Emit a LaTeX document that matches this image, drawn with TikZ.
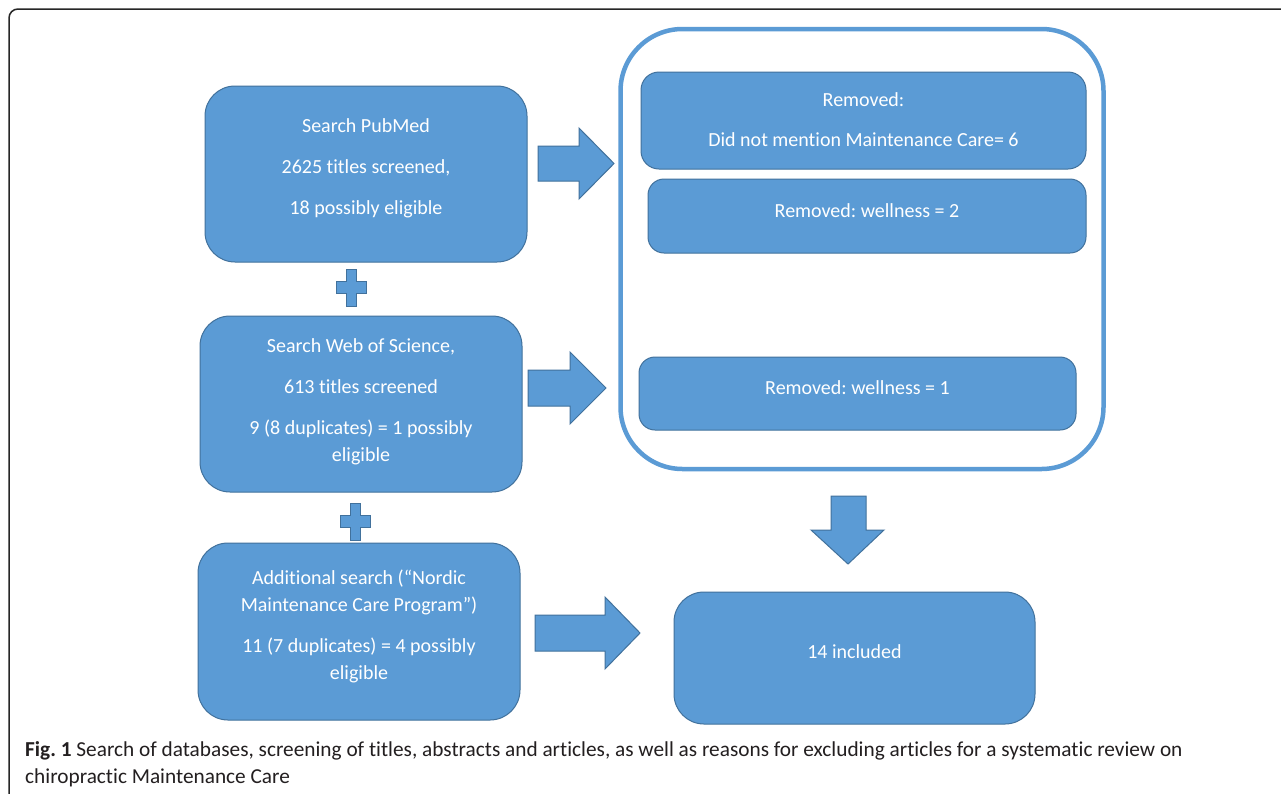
\documentclass[tikz,border=0pt]{standalone}
\usepackage{fontspec}
\setmainfont{Carlito}[Ligatures={NoCommon}]
\definecolor{boxblue}{HTML}{5B9BD5}
\definecolor{edgeblue}{HTML}{41719C}
\definecolor{captxt}{HTML}{231F20}
\tikzset{
  box/.style={rectangle, draw=edgeblue, fill=boxblue, line width=1pt, inner sep=0pt},
  txt/.style={text=white, align=center, font=\fontsize{20}{27}\selectfont, inner sep=0pt},
  blockarrow/.style={draw=edgeblue, fill=boxblue, line width=1pt, line join=miter},
  captionline/.style={text=captxt, font=\fontsize{21.3}{27}\selectfont, inner sep=0pt, anchor=base west}
}
\frenchspacing
\begin{document}
\begin{tikzpicture}[x=1pt,y=-1pt]
\useasboundingbox (0,0) rectangle (1281,793);
\fill[white] (0,0) rectangle (1281,793);
\begin{scope}
\clip (0,0) rectangle (1281,793);
\draw[black!85, line width=1.5pt, rounded corners=9pt] (1300,9) -- (9,9) -- (9,810);
\end{scope}

% left column boxes
\node[box, rounded corners=30pt, minimum width=322pt, minimum height=176pt] (pub) at (366,174) {};
\node[txt] (pubtext) at (366,168.5) {Search PubMed\\[14pt]2625 titles screened,\\[14pt]18 possibly eligible};

\node[box, rounded corners=30pt, minimum width=322pt, minimum height=176pt] (wos) at (361,404) {};
\node[txt] (wostext) at (361,401.5) {Search Web of Science,\\[14pt]613 titles screened\\[14pt]9 (8 duplicates) = 1 possibly\\eligible};

\node[box, rounded corners=30pt, minimum width=322pt, minimum height=177pt] (add) at (359,631.5) {};
\node[txt] (addtext) at (359,626) {Additional search (“Nordic\\Maintenance Care Program”)\\[14pt]11 (7 duplicates) = 4 possibly\\eligible};

% plus signs
\path (351,287.5) coordinate (p1) (355.5,521.5) coordinate (p2);
\foreach \c in {p1,p2}{
  \draw[blockarrow] ([shift={(-5,-18.5)}]\c) -- ([shift={(5,-18.5)}]\c) -- ([shift={(5,-6)}]\c) -- ([shift={(15,-6)}]\c)
    -- ([shift={(15,6)}]\c) -- ([shift={(5,6)}]\c) -- ([shift={(5,18.5)}]\c) -- ([shift={(-5,18.5)}]\c)
    -- ([shift={(-5,6)}]\c) -- ([shift={(-15,6)}]\c) -- ([shift={(-15,-6)}]\c) -- ([shift={(-5,-6)}]\c) -- cycle;
}

% container
\node[rectangle, draw=boxblue, line width=4.5pt, rounded corners=62pt, minimum width=483pt, minimum height=440pt, inner sep=0pt] (cont) at (862,249) {};

\node[box, rounded corners=18pt, minimum width=445pt, minimum height=97pt] (r1) at (863.5,120.5) {};
\node[txt] (r1text) at (863.5,119.5) {Removed:\\[13pt]Did not mention Maintenance Care= 6};

\node[box, rounded corners=16pt, minimum width=438pt, minimum height=74pt] (r2) at (867,216) {};
\node[txt] (r2text) at (867,210.5) {Removed: wellness = 2};

\node[box, rounded corners=16pt, minimum width=437pt, minimum height=73pt] (r3) at (857.5,393.5) {};
\node[txt] (r3text) at (857.5,387.5) {Removed: wellness = 1};

\node[box, rounded corners=30pt, minimum width=361pt, minimum height=132pt] (inc) at (854.5,658) {};
\node[txt] (inctext) at (854.5,651.5) {14 included};

% block arrows
\draw[blockarrow] (538,146) -- (579,146) -- (579,128) -- (614,163.5) -- (579,199) -- (579,181) -- (538,181) -- cycle;
\draw[blockarrow] (528,370) -- (570,370) -- (570,352) -- (606,388) -- (570,424) -- (570,406) -- (528,406) -- cycle;
\draw[blockarrow] (535,615) -- (605,615) -- (605,597) -- (640,633) -- (605,669) -- (605,651) -- (535,651) -- cycle;
\draw[blockarrow] (831,496) -- (866,496) -- (866,530) -- (884,530) -- (848,564) -- (811,530) -- (831,530) -- cycle;

% caption
\node[captionline] (cap1) at (25,756) {\textbf{Fig. 1} Search of databases, screening of titles, abstracts and articles, as well as reasons for excluding articles for a systematic review on};
\node[captionline] (cap2) at (25,783) {chiropractic Maintenance Care};
\end{tikzpicture}
\end{document}
